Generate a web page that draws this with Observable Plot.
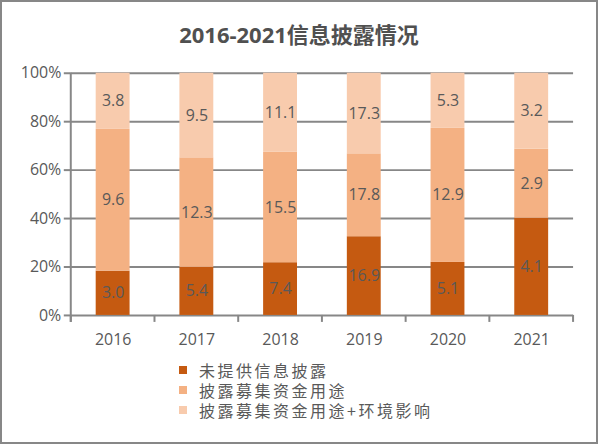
<!DOCTYPE html>
<html><head><meta charset="utf-8">
<script src="https://cdn.jsdelivr.net/npm/d3@7"></script>
<script src="https://cdn.jsdelivr.net/npm/@observablehq/plot@0.6"></script>
<style>
body{margin:0;background:#fff;}
#wrap{position:relative;width:594px;height:440px;border:2px solid #878787;overflow:hidden;font-family:"Open Sans","Noto Sans CJK SC",sans-serif;background:#fff;}
#title{position:absolute;top:15px;left:-2px;width:598px;text-align:center;font-size:22px;font-weight:bold;color:#505050;font-family:"Open Sans","Noto Sans CJK SC",sans-serif;}
#chart{position:absolute;left:-2px;top:-2px;}
#legend{position:absolute;left:177px;top:358px;font-size:16px;letter-spacing:2.5px;color:#595959;font-family:"Noto Sans CJK SC",sans-serif;}
.row{height:20px;line-height:20px;display:flex;align-items:center;white-space:nowrap;}
.sw{width:8px;height:8px;margin-right:12px;}
</style>
</head><body>
<div id="wrap">
<div id="chart"></div>
<div id="title">2016-2021信息披露情况</div>
<div id="legend"></div>
</div>
<script>
const years = ["2016","2017","2018","2019","2020","2021"];
const series = ["未提供信息披露","披露募集资金用途","披露募集资金用途+环境影响"];
const s1 = [3.0, 5.4, 7.4, 16.9, 5.1, 4.1];
const s2 = [9.6, 12.3, 15.5, 17.8, 12.9, 2.9];
const s3 = [3.8, 9.5, 11.1, 17.3, 5.3, 3.2];
const yTicks = [0, 0.2, 0.4, 0.6, 0.8, 1];
const colors = ["#C55A11", "#F4B183", "#F8CBAD"];

const values = [s1, s2, s3];
const data = years.flatMap((yr, i) => series.map((s, j) => ({year: yr, series: s, value: values[j][i]})));

const gray = "#878787";
const chart = Plot.plot({
  width: 598, height: 360,
  marginTop: 73, marginBottom: 44, marginLeft: 71, marginRight: 23,
  style: {fontFamily: '"Open Sans","Noto Sans CJK SC",sans-serif', fontSize: "16px", color: "#595959", background: "transparent", overflow: "visible"},
  x: {domain: years, paddingInner: 0.6, paddingOuter: 0.3, axis: null, label: null},
  y: {domain: [0, 1], axis: null, label: null},
  color: {domain: series, range: colors},
  marks: [
    Plot.ruleY(yTicks, {stroke: gray, strokeWidth: 2}),
    Plot.axisY({ticks: yTicks, tickFormat: d => Math.round(d * 100) + "%", tickSize: 7, tickPadding: 3, stroke: gray, strokeWidth: 2, fill: "#595959", fontSize: 16, label: null}),
    Plot.barY(data, Plot.stackY({x: "year", y: "value", fill: "series", offset: "normalize", order: null})),
    Plot.text(data, Plot.stackY({x: "year", y: "value", z: "series", text: d => d.value.toFixed(1), offset: "normalize", order: null, fill: "#595959", fontSize: 16})),
    Plot.axisX({tickSize: 0, tickPadding: 18, fill: "#595959", fontSize: 16, label: null}),
    (index, scales, vals, dims) => {
      const x = scales.x;
      const bw = x.bandwidth();
      const step = x.step ? x.step() : (x(years[1]) - x(years[0]));
      const y0 = dims.height - dims.marginBottom;
      const bounds = years.map(yr => x(yr) + bw / 2 - step / 2);
      bounds.push(x(years[years.length - 1]) + bw / 2 + step / 2);
      const g = d3.create("svg:g").attr("stroke", gray).attr("stroke-width", 2);
      g.append("line").attr("x1", bounds[0]).attr("x2", bounds[0]).attr("y1", dims.marginTop).attr("y2", y0 + 7);
      bounds.forEach(b => g.append("line").attr("x1", b).attr("x2", b).attr("y1", y0).attr("y2", y0 + 7));
      return g.node();
    }
  ]
});
document.getElementById("chart").appendChild(chart);

const legend = document.getElementById("legend");
series.forEach((s, j) => {
  const row = document.createElement("div");
  row.className = "row";
  const sw = document.createElement("div");
  sw.className = "sw";
  sw.style.background = colors[j];
  const t = document.createElement("span");
  t.textContent = s;
  row.appendChild(sw); row.appendChild(t);
  legend.appendChild(row);
});
</script>
</body></html>
